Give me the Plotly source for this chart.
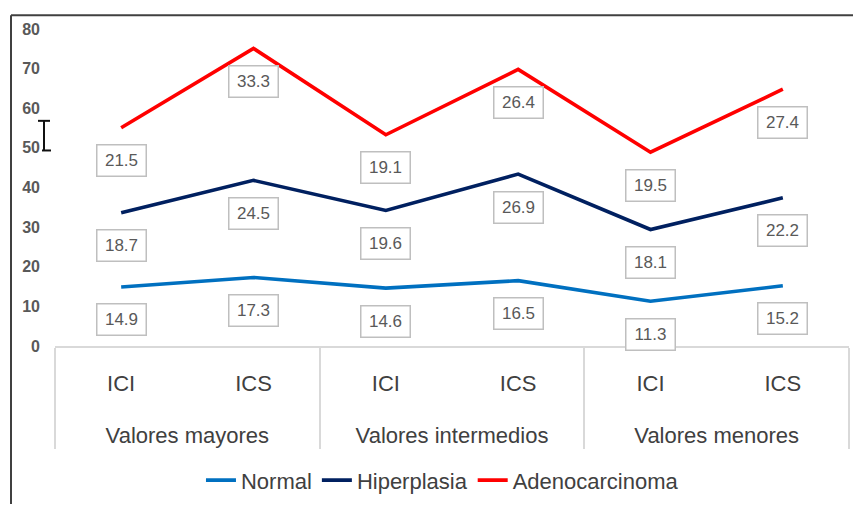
import plotly.graph_objects as go

# Data: ICI / ICS limits for three value ranges, stacked by tissue type
groups = ["Valores mayores", "Valores mayores",
          "Valores intermedios", "Valores intermedios",
          "Valores menores", "Valores menores"]
limits = ["ICI", "ICS", "ICI", "ICS", "ICI", "ICS"]
normal = [14.9, 17.3, 14.6, 16.5, 11.3, 15.2]
hiperplasia = [18.7, 24.5, 19.6, 26.9, 18.1, 22.2]
adenocarcinoma = [21.5, 33.3, 19.1, 26.4, 19.5, 27.4]
y_ticks = [0, 10, 20, 30, 40, 50, 60, 70, 80]

series = [
    ("Normal", normal, "#0070C0"),
    ("Hiperplasia", hiperplasia, "#002060"),
    ("Adenocarcinoma", adenocarcinoma, "#FF0000"),
]

W, H = 853, 506
ML, MR, MT, MB = 55, 4, 29, 156
plot_w = W - ML - MR
plot_h = H - MT - MB


def px_x(p):
    return (p - ML) / plot_w


def px_y(p):
    return (H - MB - p) / plot_h


# a spacer line under each inner label opens the gap to the group row
pad_line = "<span style='font-size:60px'> </span>"
inner = [f"{t}<br>{pad_line}" for t in limits]

fig = go.Figure()
running = [0.0] * len(normal)
annotations = []
for name, vals, color in series:
    running = [r + v for r, v in zip(running, vals)]
    fig.add_trace(go.Scatter(
        x=[groups, inner], y=list(running), name=name, mode="lines",
        line=dict(color=color, width=3.6),
    ))
    for i, (top, v) in enumerate(zip(running, vals)):
        annotations.append(dict(
            x=i, y=top, xref="x2", yref="y", text=f"{v:.1f}",
            showarrow=False, yshift=-33,
            font=dict(family="Liberation Sans", size=17, color="#595959"),
            bgcolor="white", bordercolor="#BFBFBF", borderwidth=1.5,
            borderpad=3, width=42, height=24,
        ))

frame = dict(color="#404040", width=2)
cursor = dict(color="#111111", width=2)
shapes = [
    dict(type="line", xref="paper", yref="paper",
         x0=px_x(11), x1=px_x(860), y0=px_y(15), y1=px_y(15), line=frame),
    dict(type="line", xref="paper", yref="paper",
         x0=px_x(11), x1=px_x(11), y0=px_y(15), y1=px_y(510), line=frame),
    dict(type="line", xref="paper", yref="paper",
         x0=px_x(44), x1=px_x(44), y0=px_y(122), y1=px_y(152), line=cursor),
    dict(type="line", xref="paper", yref="paper",
         x0=px_x(38), x1=px_x(50), y0=px_y(122), y1=px_y(122), line=cursor),
    dict(type="line", xref="paper", yref="paper",
         x0=px_x(42), x1=px_x(51), y0=px_y(152), y1=px_y(152), line=cursor),
]

label_font = dict(family="Liberation Sans", size=22, color="#404040")

fig.update_layout(
    width=W, height=H,
    margin=dict(l=ML, r=MR, t=MT, b=MB),
    paper_bgcolor="white", plot_bgcolor="white",
    xaxis=dict(
        type="multicategory", range=[-0.5, 5.5], automargin=False,
        showline=True, linecolor="#D9D9D9", linewidth=1.5,
        showgrid=False, zeroline=False,
        showdividers=True, dividercolor="#D9D9D9", dividerwidth=1.5,
        tickfont=label_font, ticklabelstandoff=17,
    ),
    xaxis2=dict(overlaying="x", range=[-0.5, 5.5], visible=False,
                anchor="y"),
    yaxis=dict(
        range=[0, 80], tickvals=y_ticks, showgrid=False, zeroline=False,
        showline=False, ticklabelstandoff=14, automargin=False,
        tickfont=dict(family="Liberation Sans", size=16, color="#595959",
                      weight="bold"),
    ),
    showlegend=True,
    legend=dict(orientation="h", x=0.488, xanchor="center", y=px_y(486),
                yanchor="middle",
                font=dict(family="Liberation Sans", size=22, color="#404040"),
                itemwidth=30, tracegroupgap=0),
    annotations=annotations,
    shapes=shapes,
)

fig.write_html("out.html")
